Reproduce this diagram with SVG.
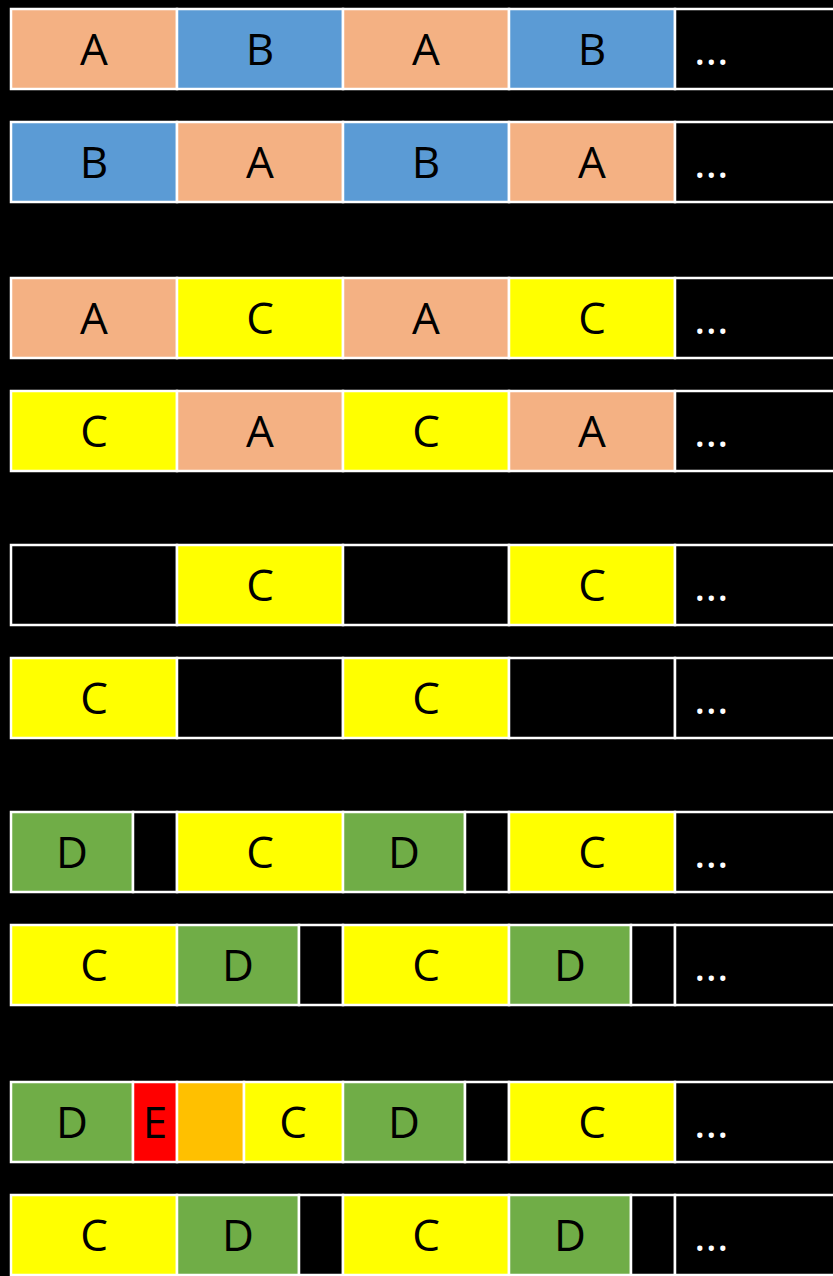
<svg xmlns="http://www.w3.org/2000/svg" width="833" height="1276" viewBox="0 0 833 1276">
<style>
rect{stroke:#fff;stroke-width:2.5}
.o{fill:#F4B183}.b{fill:#5B9BD5}.y{fill:#FFFF00}.g{fill:#70AD47}.r{fill:#FF0000}.q{fill:#FFC000}.k{fill:#000}
text{font-family:"Open Sans","Liberation Sans",sans-serif;font-size:44px;text-anchor:middle;fill:#000}
text.d{fill:#fff;text-anchor:start}
</style>
<rect x="0" y="0" width="833" height="1276" fill="#000" style="stroke:none"/>
<g id="row1" transform="translate(0,9)">
<rect class="o" x="11" y="0" width="166" height="80"/><rect class="b" x="177" y="0" width="166" height="80"/><rect class="o" x="343" y="0" width="166" height="80"/><rect class="b" x="509" y="0" width="166" height="80"/><rect class="k" x="675" y="0" width="170" height="80"/>
<text x="94" y="56">A</text><text x="260" y="56">B</text><text x="426" y="56">A</text><text x="592" y="56">B</text><text class="d" x="694" y="56">...</text>
</g>
<g id="row2" transform="translate(0,122)">
<rect class="b" x="11" y="0" width="166" height="80"/><rect class="o" x="177" y="0" width="166" height="80"/><rect class="b" x="343" y="0" width="166" height="80"/><rect class="o" x="509" y="0" width="166" height="80"/><rect class="k" x="675" y="0" width="170" height="80"/>
<text x="94" y="56">B</text><text x="260" y="56">A</text><text x="426" y="56">B</text><text x="592" y="56">A</text><text class="d" x="694" y="56">...</text>
</g>
<g id="row3" transform="translate(0,278)">
<rect class="o" x="11" y="0" width="166" height="80"/><rect class="y" x="177" y="0" width="166" height="80"/><rect class="o" x="343" y="0" width="166" height="80"/><rect class="y" x="509" y="0" width="166" height="80"/><rect class="k" x="675" y="0" width="170" height="80"/>
<text x="94" y="56">A</text><text x="260" y="56">C</text><text x="426" y="56">A</text><text x="592" y="56">C</text><text class="d" x="694" y="56">...</text>
</g>
<g id="row4" transform="translate(0,391)">
<rect class="y" x="11" y="0" width="166" height="80"/><rect class="o" x="177" y="0" width="166" height="80"/><rect class="y" x="343" y="0" width="166" height="80"/><rect class="o" x="509" y="0" width="166" height="80"/><rect class="k" x="675" y="0" width="170" height="80"/>
<text x="94" y="56">C</text><text x="260" y="56">A</text><text x="426" y="56">C</text><text x="592" y="56">A</text><text class="d" x="694" y="56">...</text>
</g>
<g id="row5" transform="translate(0,545)">
<rect class="k" x="11" y="0" width="166" height="80"/><rect class="y" x="177" y="0" width="166" height="80"/><rect class="k" x="343" y="0" width="166" height="80"/><rect class="y" x="509" y="0" width="166" height="80"/><rect class="k" x="675" y="0" width="170" height="80"/>
<text x="260" y="56">C</text><text x="592" y="56">C</text><text class="d" x="694" y="56">...</text>
</g>
<g id="row6" transform="translate(0,658)">
<rect class="y" x="11" y="0" width="166" height="80"/><rect class="k" x="177" y="0" width="166" height="80"/><rect class="y" x="343" y="0" width="166" height="80"/><rect class="k" x="509" y="0" width="166" height="80"/><rect class="k" x="675" y="0" width="170" height="80"/>
<text x="94" y="56">C</text><text x="426" y="56">C</text><text class="d" x="694" y="56">...</text>
</g>
<g id="row7" transform="translate(0,812)">
<rect class="g" x="11" y="0" width="122" height="80"/><rect class="k" x="133" y="0" width="44" height="80"/><rect class="y" x="177" y="0" width="166" height="80"/><rect class="g" x="343" y="0" width="122" height="80"/><rect class="k" x="465" y="0" width="44" height="80"/><rect class="y" x="509" y="0" width="166" height="80"/><rect class="k" x="675" y="0" width="170" height="80"/>
<text x="72" y="56">D</text><text x="260" y="56">C</text><text x="404" y="56">D</text><text x="592" y="56">C</text><text class="d" x="694" y="56">...</text>
</g>
<g id="row8" transform="translate(0,925)">
<rect class="y" x="11" y="0" width="166" height="80"/><rect class="g" x="177" y="0" width="122" height="80"/><rect class="k" x="299" y="0" width="44" height="80"/><rect class="y" x="343" y="0" width="166" height="80"/><rect class="g" x="509" y="0" width="122" height="80"/><rect class="k" x="631" y="0" width="44" height="80"/><rect class="k" x="675" y="0" width="170" height="80"/>
<text x="94" y="56">C</text><text x="238" y="56">D</text><text x="426" y="56">C</text><text x="570" y="56">D</text><text class="d" x="694" y="56">...</text>
</g>
<g id="row9" transform="translate(0,1082)">
<rect class="g" x="11" y="0" width="122" height="80"/><rect class="r" x="133" y="0" width="44" height="80"/><rect class="q" x="177" y="0" width="67" height="80"/><rect class="y" x="244" y="0" width="99" height="80"/><rect class="g" x="343" y="0" width="122" height="80"/><rect class="k" x="465" y="0" width="44" height="80"/><rect class="y" x="509" y="0" width="166" height="80"/><rect class="k" x="675" y="0" width="170" height="80"/>
<text x="72" y="56">D</text><text x="155" y="56">E</text><text x="293" y="56">C</text><text x="404" y="56">D</text><text x="592" y="56">C</text><text class="d" x="694" y="56">...</text>
</g>
<g id="row10" transform="translate(0,1195)">
<rect class="y" x="11" y="0" width="166" height="80"/><rect class="g" x="177" y="0" width="122" height="80"/><rect class="k" x="299" y="0" width="44" height="80"/><rect class="y" x="343" y="0" width="166" height="80"/><rect class="g" x="509" y="0" width="122" height="80"/><rect class="k" x="631" y="0" width="44" height="80"/><rect class="k" x="675" y="0" width="170" height="80"/>
<text x="94" y="56">C</text><text x="238" y="56">D</text><text x="426" y="56">C</text><text x="570" y="56">D</text><text class="d" x="694" y="56">...</text>
</g>
<g id="connectors"></g>
</svg>
